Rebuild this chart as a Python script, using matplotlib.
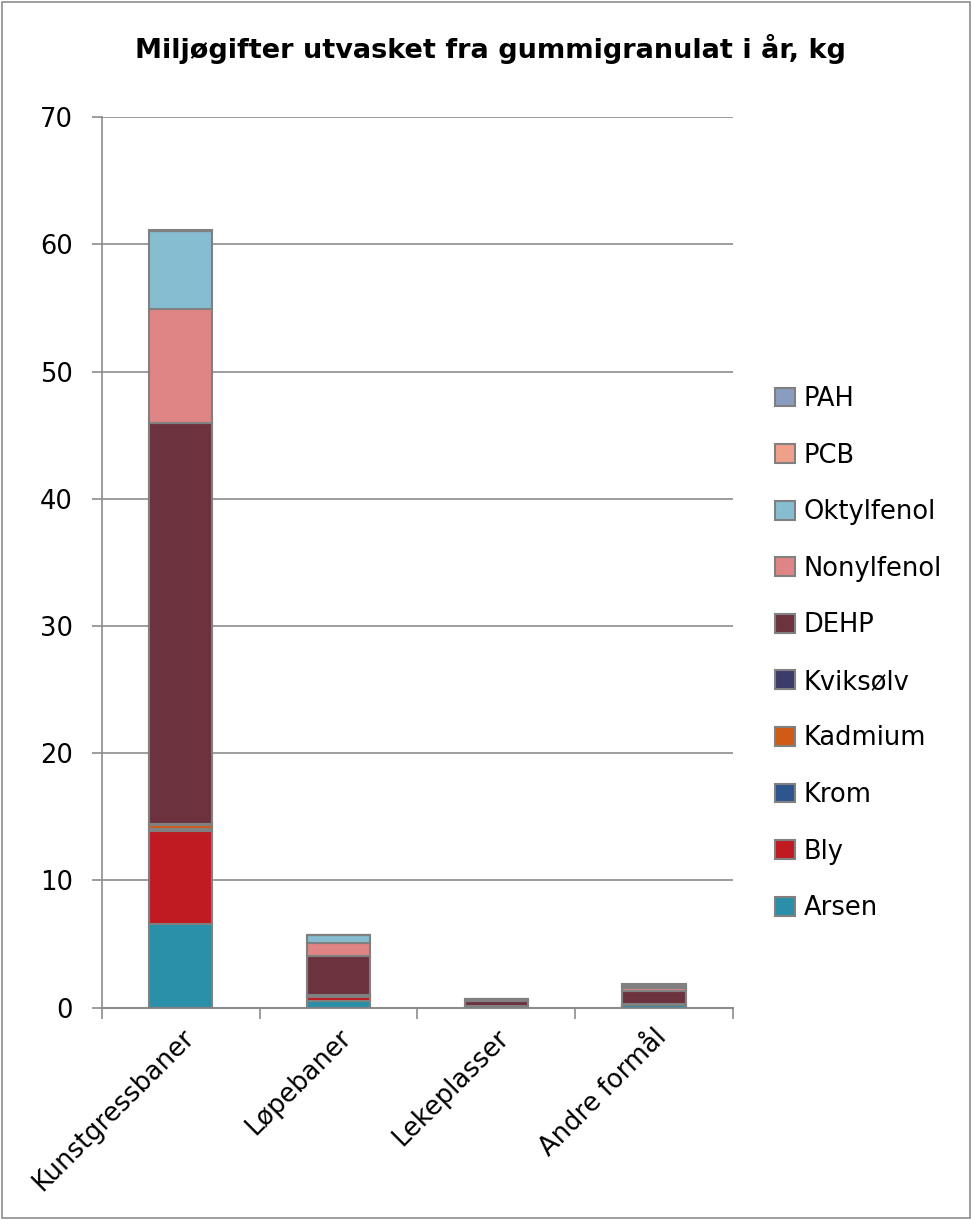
import numpy as np
import matplotlib.pyplot as plt
from matplotlib.patches import Rectangle

# categories and stacked components (kg)
categories = ['Kunstgressbaner', 'Løpebaner', 'Lekeplasser', 'Andre formål']
components = ['Arsen', 'Bly', 'Krom', 'Kadmium', 'Kviksølv',
              'DEHP', 'Nonylfenol', 'Oktylfenol', 'PCB', 'PAH']

arsen = [6.6, 0.55, 0.05, 0.2]
bly = [7.3, 0.3, 0.03, 0.08]
krom = [0.15, 0.05, 0.01, 0.02]
kadmium = [0.3, 0.05, 0.01, 0.02]
kviksolv = [0.1, 0.02, 0.01, 0.01]
dehp = [31.5, 3.1, 0.45, 0.95]
nonylfenol = [9.0, 1.0, 0.06, 0.25]
oktylfenol = [6.1, 0.65, 0.04, 0.2]
pcb = [0.03, 0.01, 0.01, 0.02]
pah = [0.05, 0.02, 0.02, 0.15]

series = [arsen, bly, krom, kadmium, kviksolv, dehp, nonylfenol, oktylfenol, pcb, pah]
colors = ['#2a8fa8', '#c01a22', '#2e558e', '#d15a17', '#3d3b69',
          '#6c333e', '#e08585', '#87bdd0', '#f0a08a', '#8a9cbf']

plt.rcParams['font.family'] = 'DejaVu Sans'

fig = plt.figure(figsize=(9.72, 12.2), dpi=100)
ax = fig.add_axes([0.105, 0.174, 0.649, 0.730])

x = np.arange(len(categories))
bottom = np.zeros(len(categories))
handles = []
for vals, col, name in zip(series, colors, components):
    b = ax.bar(x, vals, width=0.4, bottom=bottom, color=col,
               edgecolor='#808080', linewidth=1.5, label=name, zorder=3)
    handles.append(b)
    bottom += np.array(vals)

ax.set_xlim(-0.5, 3.5)
ax.set_ylim(0, 70)
ax.set_yticks(range(0, 71, 10))
ax.yaxis.grid(True, color='#8c8c8c', linewidth=1.2, zorder=0)
ax.set_axisbelow(True)

for s in ['top', 'right']:
    ax.spines[s].set_visible(False)
ax.spines['left'].set_color('#8c8c8c')
ax.spines['bottom'].set_color('#8c8c8c')
ax.spines['left'].set_linewidth(1.2)
ax.spines['bottom'].set_linewidth(1.5)

ax.set_xticks(np.arange(-0.5, 3.6, 1.0))
ax.set_xticklabels([])
ax.set_xticks(x, minor=True)
ax.set_xticklabels(categories, minor=True, rotation=45, ha='right',
                   va='top', fontsize=18.5, rotation_mode='anchor')
ax.tick_params(axis='x', which='minor', length=0, pad=12)
ax.tick_params(axis='x', which='major', length=8, color='#8c8c8c', width=1.2)
ax.tick_params(axis='y', length=7, color='#8c8c8c', width=1.2,
               labelsize=18.5, pad=14)

fig.suptitle('Miljøgifter utvasket fra gummigranulat i år, kg',
             x=0.505, y=0.972, fontsize=19.5, fontweight='bold')

leg = fig.legend(handles[::-1], components[::-1], loc='center left',
                 bbox_to_anchor=(0.774, 0.4643), frameon=False,
                 fontsize=18.5, labelspacing=1.19, handlelength=0.75,
                 handleheight=0.75, handletextpad=0.35)

fig.patches.append(Rectangle((0.002, 0.002), 0.996, 0.996,
                             transform=fig.transFigure, fill=False,
                             edgecolor='#8c8c8c', linewidth=1.2))

fig.savefig('out.png', dpi=100)
